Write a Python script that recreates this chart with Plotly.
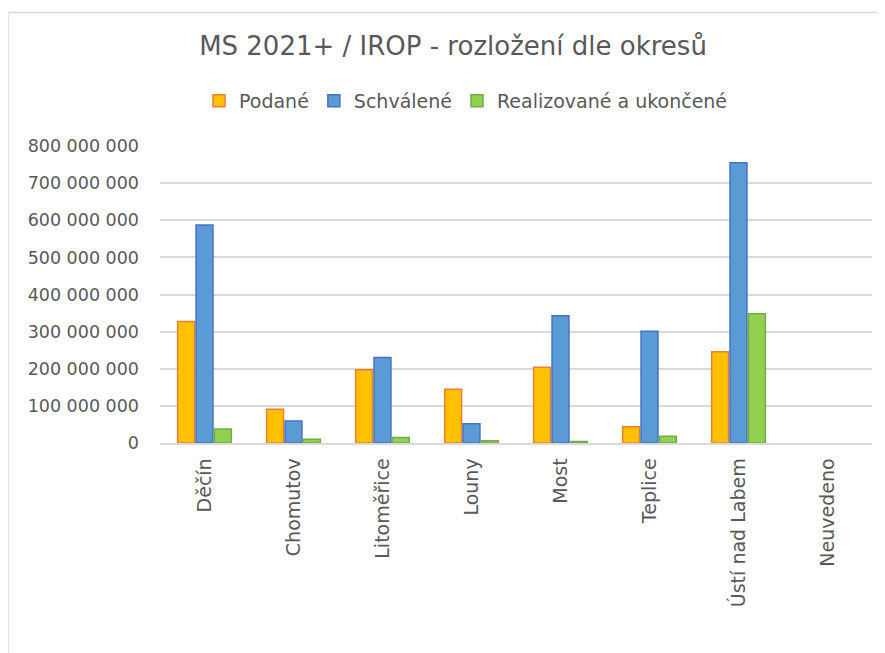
import plotly.graph_objects as go

categories = ["Děčín", "Chomutov", "Litoměřice", "Louny", "Most", "Teplice", "Ústí nad Labem", "Neuvedeno"]
podane = [327e6, 91e6, 197e6, 145e6, 204e6, 44e6, 246e6, None]
schvalene = [587e6, 59e6, 230e6, 52e6, 343e6, 301e6, 755e6, None]
realizovane = [38e6, 10e6, 15e6, 6e6, 4e6, 18e6, 348e6, None]
series_names = ["Podané", "Schválené", "Realizované a ukončené"]

# page body has an 8px margin, so figure coords = screen coords - 8
OFF = 8
W, H = 877, 645
L, T = 160 - OFF, 146 - OFF
R = W - (872 - OFF)
B = H - (443 - OFF)
FONT = "Century Gothic, DejaVu Sans, sans-serif"
GREY = "#595959"

fig = go.Figure()
styles = [("#FFC000", "#ED7D31"), ("#5B9BD5", "#4472C4"), ("#92D050", "#70AD47")]
for name, vals, (fill, edge) in zip(series_names, [podane, schvalene, realizovane], styles):
    fig.add_trace(go.Bar(name=name, x=categories, y=vals,
                         marker=dict(color=fill, line=dict(color=edge, width=1.5))))

pw = W - L - R
ph = H - T - B
def px2paper(x, y):
    return (x - OFF - L) / pw, (H - B - (y - OFF)) / ph

x0, y0 = px2paper(8, 12.5)
x1, _ = px2paper(900, 12.5)
_, y1 = px2paper(8, 700)
fig.add_shape(type="line", xref="paper", yref="paper", x0=x0, y0=y0, x1=x1, y1=y0,
              line=dict(color="#D9D9D9", width=1.5))
fig.add_shape(type="line", xref="paper", yref="paper", x0=x0, y0=y0, x1=x0, y1=y1,
              line=dict(color="#D9D9D9", width=1.5))

fig.update_layout(
    width=W, height=H,
    margin=dict(l=L, r=R, t=T, b=B, autoexpand=False),
    paper_bgcolor="white", plot_bgcolor="white",
    separators=", ",
    font=dict(family=FONT, color=GREY, size=16),
    title=dict(text="MS 2021+ / IROP - rozložení dle okresů", x=(453 - OFF) / W, xanchor="center",
               yref="container", y=1 - (46 - OFF) / H, yanchor="middle",
               font=dict(size=26, color=GREY, family=FONT)),
    legend=dict(orientation="h", x=(466 - OFF) / W, xanchor="center", xref="container",
                y=1 - (101 - OFF) / H, yanchor="middle",
                yref="container", font=dict(size=19, color=GREY, family=FONT), itemwidth=30,
                traceorder="normal"),
    barmode="group", bargap=0.38, bargroupgap=0.08,
    showlegend=True,
)
fig.update_xaxes(tickangle=-90, showline=True, linecolor="#D9D9D9", linewidth=1.5,
                 ticks="", tickfont=dict(size=19, color=GREY, family=FONT), ticklabelstandoff=6)
fig.update_yaxes(range=[0, 800e6], dtick=100e6, tickformat=",d", gridcolor="#D9D9D9",
                 gridwidth=1.5, zeroline=False, ticks="", ticklabelstandoff=20,
                 tickfont=dict(size=17.5, color=GREY, family=FONT))

fig.write_html("out.html")
